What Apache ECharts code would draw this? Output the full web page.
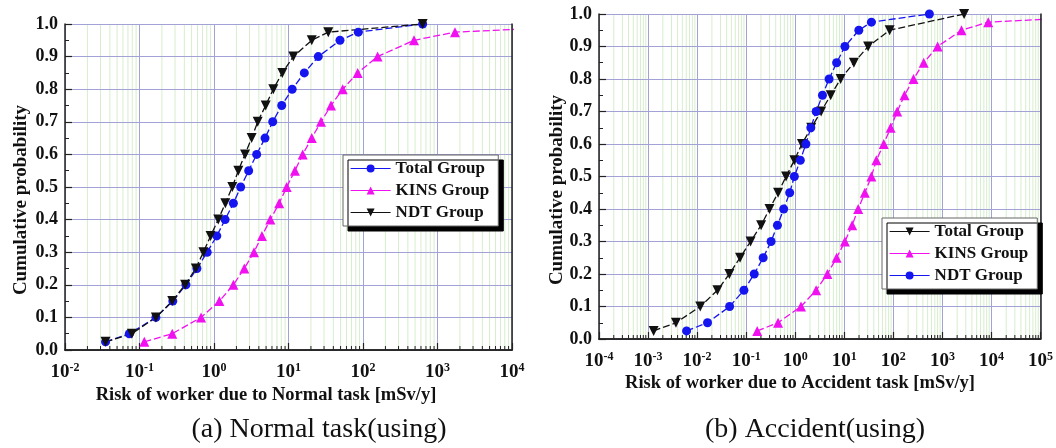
<!DOCTYPE html>
<html><head><meta charset="utf-8">
<script src="https://cdn.jsdelivr.net/npm/echarts@6/dist/echarts.min.js"></script>
<style>html,body{margin:0;padding:0;background:#fff}#c{width:1056px;height:448px}</style>
</head><body><div id="c"></div>
<script>
// ---- data ----
const probs = [0.025,0.05,0.1,0.15,0.2,0.25,0.3,0.35,0.4,0.45,0.5,0.55,0.6,0.65,0.7,0.75,0.8,0.85,0.9,0.95,0.975,1.0];
const probsNo975 = [0.025,0.05,0.1,0.15,0.2,0.25,0.3,0.35,0.4,0.45,0.5,0.55,0.6,0.65,0.7,0.75,0.8,0.85,0.9,0.95,1.0];
// (a) Normal task
const totalA = [0.035,0.073,0.166,0.28,0.42,0.59,0.81,1.09,1.41,1.82,2.28,2.92,3.74,4.84,6.14,8.11,11.2,16.3,25.1,49.1,86.5,632];
const kinsA  = [0.116,0.275,0.67,1.18,1.82,2.55,3.44,4.4,5.7,7.5,9.46,12.2,15.5,20.5,27.3,37.2,53.4,84.9,157,484,1718,400000];
const ndtA   = [0.035,0.079,0.166,0.275,0.41,0.57,0.72,0.90,1.14,1.42,1.76,2.12,2.61,3.2,3.86,4.94,6.25,8.26,11.6,20.5,34.2,632];
// (b) Accident task
const totalB = [0.0013,0.0037,0.0116,0.026,0.0455,0.075,0.123,0.202,0.299,0.447,0.65,0.96,1.37,2.12,3.37,5.28,8.42,15.7,30.6,84,2770];
const kinsB  = [0.168,0.447,1.31,2.67,4.53,6.98,10.3,14.5,19.2,26.2,35.7,45.1,63.7,88,120,169,258,416,800,2450,8610,18000000];
const ndtB   = [0.0061,0.0163,0.046,0.090,0.146,0.222,0.322,0.434,0.582,0.771,0.96,1.27,1.65,2.08,2.67,3.59,4.90,6.98,10.3,19.8,35.7,543];
const legendNames = ['Total Group','KINS Group','NDT Group'];
const yTicks = [0,0.1,0.2,0.3,0.4,0.5,0.6,0.7,0.8,0.9,1.0];
const xRangeA = [-2, 4];   // decades (exponents)
const xRangeB = [-4, 5];

const F = '"Liberation Serif","Times New Roman",serif';
const BLUE = '#1515f0', MAG = '#f010f0', BLK = '#111';
const DOWN = 'path://M0,0L10,0L5,9Z';

function zip(xs, ps){ return xs.map((x,i)=>[x, ps[i]]); }
function ser(name, xs, ps, color, symbol, size, gi){
  return {
    name, type:'line', xAxisIndex: gi*2, yAxisIndex: gi*2, data: zip(xs, ps),
    symbol, symbolSize: size, clip: true, showSymbol: true,
    itemStyle:{color}, lineStyle:{color, width:1.3, type:[7,3]},
    emphasis:{disabled:true}, animation:false, z: 5
  };
}
// minor (2..9 per decade) positions for log grid lines
function minorVals(r){
  const out = [];
  for (let d = r[0]; d < r[1]; d++) for (let k = 2; k <= 9; k++) out.push([k * Math.pow(10, d), 0]);
  return out;
}
function minorSeries(gi, r, kind){
  return {
    type:'custom', xAxisIndex: gi*2, yAxisIndex: gi*2, data: minorVals(r), silent:true,
    z: kind === 'grid' ? 1 : 4, animation:false, clip:false,
    renderItem: (params, api) => {
      const v = api.value(0);
      const top = api.coord([v, 1]), bot = api.coord([v, 0]);
      if (kind === 'grid') {
        return {type:'line', shape:{x1:top[0], y1:top[1], x2:bot[0], y2:bot[1]},
          style:{stroke:'#d7edcd', lineWidth:1}};
      }
      return {type:'line', shape:{x1:bot[0], y1:bot[1], x2:bot[0], y2:bot[1]-4},
        style:{stroke:'#222', lineWidth:1}};
    }
  };
}
function xAx(gi, min, max){
  return {
    type:'log', logBase:10, gridIndex: gi, min, max, position:'bottom', z: 2,
    axisLine:{show:true, onZero:false, lineStyle:{color:'#222', width:1.5}},
    axisTick:{show:true, inside:true, length:7, lineStyle:{color:'#222', width:1.2}},
    minorTick:{show:false}, minorSplitLine:{show:false},
    splitLine:{show:true, lineStyle:{color:'#a2a2d6', width:1}},
    axisLabel:{
      margin: 12,
      formatter: v => '{b|10}{s|' + Math.round(Math.log10(v)) + '}',
      rich:{
        b:{fontFamily:F, fontWeight:'bold', fontSize:19, color:'#111', lineHeight:20},
        s:{fontFamily:F, fontWeight:'bold', fontSize:12, color:'#111', lineHeight:12, verticalAlign:'top'}
      }
    }
  };
}
function xFrame(gi, min, max){
  return { type:'log', logBase:10, gridIndex: gi, min, max, position:'top', z: 6,
    axisLine:{show:true, lineStyle:{color:'#222', width:1.5}}, axisTick:{show:false},
    axisLabel:{show:false}, splitLine:{show:false} };
}
function yAx(gi){
  return {
    type:'value', gridIndex: gi, min: yTicks[0], max: yTicks[yTicks.length-1], interval: 0.1, position:'left', z: 2,
    axisLine:{show:true, onZero:false, lineStyle:{color:'#222', width:1.5}},
    axisTick:{show:true, inside:true, length:7, lineStyle:{color:'#222', width:1.2}},
    minorTick:{show:true, splitNumber:2, length:4, lineStyle:{color:'#222', width:1}},
    splitLine:{show:true, lineStyle:{color:'#a2a2d6', width:1}},
    axisLabel:{margin:7, fontFamily:F, fontWeight:'bold', fontSize:18, color:'#111',
      formatter: v => v.toFixed(1)}
  };
}
function yFrame(gi){
  return { type:'value', gridIndex: gi, min:0, max:1, position:'right', z: 6,
    axisLine:{show:true, lineStyle:{color:'#222', width:1.5}}, axisTick:{show:false},
    axisLabel:{show:false}, splitLine:{show:false} };
}
function legend(left, top, suffix, order){
  return {
    data: order.map(n => n + suffix), left, top, orient:'vertical', z: 8,
    itemWidth:40, itemHeight:10, itemGap:5, itemTextGap:8,
    padding:[5,9,5,7], backgroundColor:'#fff', borderColor:'#666', borderWidth:1,
    shadowColor:'#000', shadowOffsetX:5, shadowOffsetY:5, shadowBlur:0.01,
    selectedMode:false,
    lineStyle:{type:'solid', width:1.2},
    formatter: n => n.replace(suffix, ''),
    textStyle:{fontFamily:F, fontWeight:'bold', fontSize:17, color:'#111'}
  };
}
function txt(text, x, y, size, bold, rot){
  return { type:'text', x, y, rotation: rot||0, z: 10,
    style:{ text, x:0, y:0, align:'center', verticalAlign:'middle',
      font: (bold?'bold ':'') + size + 'px ' + F, fill:'#111' } };
}

const chart = echarts.init(document.getElementById('c'), null, {renderer:'canvas'});
chart.setOption({
  animation:false,
  grid:[
    {left:65, right:1056-512, top:24, bottom:448-350},
    {left:599, right:1056-1044, top:14, bottom:448-339}
  ],
  xAxis:[ xAx(0, Math.pow(10, xRangeA[0]), Math.pow(10, xRangeA[1])), xFrame(0, Math.pow(10, xRangeA[0]), Math.pow(10, xRangeA[1])),
          xAx(1, Math.pow(10, xRangeB[0]), Math.pow(10, xRangeB[1])), xFrame(1, Math.pow(10, xRangeB[0]), Math.pow(10, xRangeB[1])) ],
  yAxis:[ yAx(0), yFrame(0), yAx(1), yFrame(1) ],
  legend:[
    legend(343, 155, '', legendNames),
    legend(882, 218, ' (b)', legendNames)
  ],
  series:[
    minorSeries(0, xRangeA, 'grid'), minorSeries(0, xRangeA, 'tick'),
    minorSeries(1, xRangeB, 'grid'), minorSeries(1, xRangeB, 'tick'),
    ser('Total Group', totalA, probs, BLUE, 'circle', 9, 0),
    ser('KINS Group', kinsA, probs, MAG, 'triangle', 10, 0),
    ser('NDT Group', ndtA, probs, BLK, DOWN, 10, 0),
    ser('Total Group (b)', totalB, probsNo975, BLK, DOWN, 10, 1),
    ser('KINS Group (b)', kinsB, probs, MAG, 'triangle', 10, 1),
    ser('NDT Group (b)', ndtB, probs, BLUE, 'circle', 9, 1)
  ],
  graphic:[
    txt('Cumulative probability', 21, 200, 19, true, Math.PI/2),
    txt('Cumulative probability', 557, 190, 19, true, Math.PI/2),
    txt('Risk of worker due to Normal task [mSv/y]', 266, 395, 18.5, true),
    txt('Risk of worker due to Accident task [mSv/y]', 800, 383, 18.5, true),
    txt('(a) Normal task(using)', 319, 430, 28, false),
    txt('(b) Accident(using)', 815, 430, 28, false)
  ]
});
</script></body></html>
